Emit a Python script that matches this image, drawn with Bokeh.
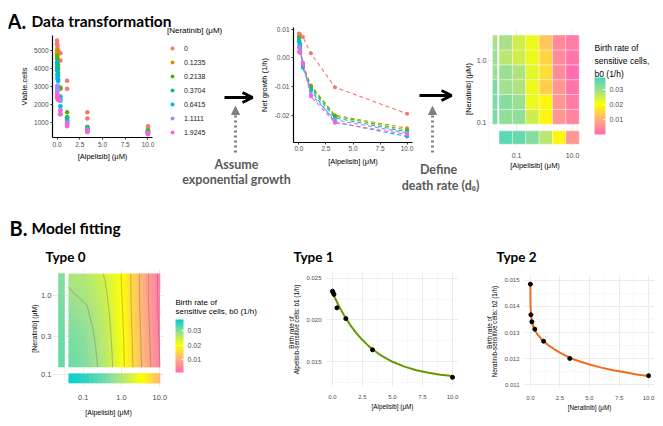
import numpy as np
from bokeh.plotting import figure
from bokeh.models import (Range1d, FixedTicker, Label, Arrow, OpenHead, NormalHead, ColorBar,
                          LinearColorMapper, Legend, LegendItem, PrintfTickFormatter,
                          ColumnDataSource)
from bokeh.core.properties import value
from bokeh.embed import file_html
from bokeh.resources import INLINE

# ---------------------------------------------------------------- data
ALPELISIB = [0, 0.0412, 0.1235, 0.3704, 1.1111, 3.3333, 10.0]
NERATINIB = [0, 0.1235, 0.2138, 0.3704, 0.6415, 1.1111, 1.9245]
NER_LABELS = ["0", "0.1235", "0.2138", "0.3704", "0.6415", "1.1111", "1.9245"]
NER_COLORS = ["#F8766D", "#C49A00", "#53B400", "#00C094", "#00B6EB", "#A58AFF", "#FB61D7"]

# viable cells: two replicates per alpelisib dose (dose order as ALPELISIB)
cells_ner_0 = [5560, 5380, 5300, 5150, 5000, 4880, 4850, 4450, 3320, 2880, 1560, 1220, 790, 660]
cells_ner_0_1235 = [5000, 4850, 4750, 4600, 4450, 4200, 2950, 2880, 1300, 1150, 760, 680, 560, 520]
cells_ner_0_2138 = [4700, 4550, 4300, 4100, 4000, 3750, 2900, 1450, 1560, 1280, 720, 640, 540, 480]
cells_ner_0_3704 = [4250, 4050, 3900, 3700, 3600, 3400, 2450, 2300, 1250, 1050, 700, 600, 500, 450]
cells_ner_0_6415 = [4350, 3900, 3600, 3450, 3300, 3000, 2200, 1900, 1100, 900, 650, 480, 450, 380]
cells_ner_1_1111 = [2850, 2700, 3050, 2950, 2800, 2500, 2250, 1700, 1000, 850, 600, 520, 430, 360]
cells_ner_1_9245 = [2600, 2400, 2450, 2300, 2350, 2250, 1650, 1450, 950, 780, 560, 470, 400, 340]
CELLS = [cells_ner_0, cells_ner_0_1235, cells_ner_0_2138, cells_ner_0_3704,
         cells_ner_0_6415, cells_ner_1_1111, cells_ner_1_9245]

# net growth (1/h)
growth_ner_0 = [0.0085, 0.0084, 0.0081, 0.0073, 0.0016, -0.0102, -0.0195]
growth_ner_0_1235 = [0.0075, 0.0062, 0.0050, -0.0024, -0.0096, -0.0200, -0.0245]
growth_ner_0_2138 = [0.0072, 0.0060, 0.0046, -0.0028, -0.0100, -0.0203, -0.0252]
growth_ner_0_3704 = [0.0066, 0.0054, 0.0040, -0.0031, -0.0108, -0.0209, -0.0258]
growth_ner_0_6415 = [0.0058, 0.0046, 0.0031, -0.0034, -0.0114, -0.0224, -0.0274]
growth_ner_1_1111 = [0.0036, 0.0040, 0.0027, -0.0016, -0.0126, -0.0216, -0.0262]
growth_ner_1_9245 = [0.0021, 0.0023, 0.0017, -0.0021, -0.0134, -0.0226, -0.0267]
GROWTH = [growth_ner_0, growth_ner_0_1235, growth_ner_0_2138, growth_ner_0_3704,
          growth_ner_0_6415, growth_ner_1_1111, growth_ner_1_9245]

# birth rate b0 per (neratinib row, alpelisib column), non-zero doses
b0_ner_0_1235 = [0.031, 0.031, 0.025, 0.019, 0.0065, 0.004]
b0_ner_0_2138 = [0.032, 0.030, 0.022, 0.019, 0.0065, 0.003]
b0_ner_0_3704 = [0.029, 0.028, 0.022, 0.014, 0.0065, 0.002]
b0_ner_0_6415 = [0.030, 0.028, 0.023, 0.016, 0.005, 0.001]
b0_ner_1_1111 = [0.027, 0.025, 0.022, 0.015, 0.005, 0.002]
b0_ner_1_9245 = [0.0285, 0.025, 0.022, 0.013, 0.005, 0.003]
B0_ROWS = [b0_ner_0_1235, b0_ner_0_2138, b0_ner_0_3704, b0_ner_0_6415, b0_ner_1_1111, b0_ner_1_9245]
b0_alp_0 = [0.033, 0.033, 0.033, 0.030, 0.030, 0.0285]   # alpelisib = 0, by neratinib
b0_ner_0 = [0.036, 0.035, 0.032, 0.027, 0.019, 0.0065]   # neratinib = 0, by alpelisib

# Type 0 fitted surface b0 (rows neratinib 0.1235 .. 1.9245, cols alpelisib 0.0412 .. 10)
type0_ner_0_1235 = [0.0318, 0.0302, 0.0265, 0.0205, 0.0120, 0.0040]
type0_ner_0_2138 = [0.0313, 0.0298, 0.0262, 0.0203, 0.0118, 0.0038]
type0_ner_0_3704 = [0.0305, 0.0292, 0.0258, 0.0200, 0.0115, 0.0035]
type0_ner_0_6415 = [0.0295, 0.0283, 0.0252, 0.0198, 0.0112, 0.0032]
type0_ner_1_1111 = [0.0282, 0.0274, 0.0245, 0.0196, 0.0110, 0.0030]
type0_ner_1_9245 = [0.0275, 0.0265, 0.0237, 0.0195, 0.0110, 0.0030]
TYPE0_ROWS = [type0_ner_0_1235, type0_ner_0_2138, type0_ner_0_3704,
              type0_ner_0_6415, type0_ner_1_1111, type0_ner_1_9245]
type0_alp_0 = [0.0318, 0.0316, 0.0313, 0.0310, 0.0305, 0.0300]
type0_ner_0 = [0.0375, 0.0350, 0.0315, 0.0265, 0.0205, 0.0110]
TYPE0_LEVELS = [0.004, 0.008, 0.012, 0.016, 0.020, 0.024, 0.028]

# Type 1: b1 vs alpelisib
type1_alp = ALPELISIB
type1_b1 = [0.02346, 0.02331, 0.02307, 0.02145, 0.02016, 0.01641, 0.01310]
type1_curve_alp = [0, 0.25, 0.5, 0.75, 1.0, 1.5, 2.0, 2.5, 3.0, 3.5, 4.0, 5.0, 6.0, 7.0, 8.0, 9.0, 10.0]
type1_curve_b1 = [0.02330, 0.02251, 0.02177, 0.02109, 0.02046, 0.01935, 0.01839, 0.01758, 0.01688,
                  0.01629, 0.01578, 0.01497, 0.01439, 0.01396, 0.01365, 0.01342, 0.01325]

# Type 2: b2 vs neratinib
type2_ner = [0, 0.0412, 0.1235, 0.3704, 1.1111, 3.3333, 10.0]
type2_b2 = [0.01485, 0.01368, 0.01341, 0.01313, 0.01267, 0.01201, 0.01135]
type2_curve_ner = [0, 0.005, 0.02, 0.05, 0.1, 0.2, 0.37, 0.6, 1.0, 1.5, 2.0, 2.5, 3.33, 4.0, 5.0,
                   6.0, 7.0, 8.0, 9.0, 10.0]
type2_curve_b2 = [0.01485, 0.01420, 0.01392, 0.01368, 0.01348, 0.01328, 0.01311, 0.01293, 0.01271,
                  0.01252, 0.01237, 0.01223, 0.01203, 0.01192, 0.01178, 0.01166, 0.01156, 0.01148,
                  0.01140, 0.01134]

# ---------------------------------------------------------------- helpers
W, H = 647, 410
OX, OY = 8, 8
FONT = "Liberation Sans"
TITLE_FONT = "Lato"
ABS = {"position": "absolute", "left": f"{OX}px", "top": f"{OY}px"}


def make_palette(anchors, n=256):
    pos = np.array([a[0] for a in anchors])
    cols = np.array([[int(a[1][i:i + 2], 16) for i in (1, 3, 5)] for a in anchors], float)
    t = np.linspace(0, 1, n)
    rgb = np.stack([np.interp(t, pos, cols[:, k]) for k in range(3)], 1)
    return ["#%02x%02x%02x" % tuple(int(round(c)) for c in row) for row in rgb]


def color_at(v, pal, lo, hi):
    i = int(np.clip((v - lo) / (hi - lo), 0, 1) * (len(pal) - 1))
    return pal[i]


def panel(x0, y0, x1, y1, xr, yr, axes=True):
    kw = {} if axes else dict(x_axis_location=None, y_axis_location=None)
    p = figure(width=W, height=H, output_backend="svg", toolbar_location=None,
               x_range=Range1d(*xr), y_range=Range1d(*yr),
               min_border_left=x0 - OX, min_border_top=y0 - OY,
               min_border_right=OX + W - x1, min_border_bottom=OY + H - y1,
               styles=ABS, **kw)
    p.background_fill_color = None
    p.border_fill_color = None
    p.outline_line_color = None
    return p


def style(p, classic, tick_fs, lab_fs, tick_standoff=(2, 2), lab_standoff=(2, 2)):
    for ax, ts, ls in ((p.xaxis[0], tick_standoff[0], lab_standoff[0]),
                       (p.yaxis[0], tick_standoff[1], lab_standoff[1])):
        ax.major_label_text_font = FONT
        ax.major_label_text_font_size = tick_fs
        ax.major_label_text_color = "#4d4d4d"
        ax.axis_label_text_font = FONT
        ax.axis_label_text_font_size = lab_fs
        ax.axis_label_text_font_style = "normal"
        ax.axis_label_text_color = "black"
        ax.minor_tick_line_color = None
        ax.minor_tick_out = 0
        ax.minor_tick_in = 0
        ax.major_label_standoff = ts
        ax.axis_label_standoff = ls
        if classic:
            ax.axis_line_color = "black"
            ax.axis_line_width = 1.2
            ax.major_tick_line_color = "#333333"
            ax.major_tick_out = 2
            ax.major_tick_in = 0
        else:
            ax.axis_line_color = None
            ax.major_tick_line_color = None
            ax.major_tick_out = 0
            ax.major_tick_in = 0
    if classic:
        p.xgrid.grid_line_color = None
        p.ygrid.grid_line_color = None
    else:
        for g in (p.xgrid[0], p.ygrid[0]):
            g.grid_line_color = "#ebebeb"
            g.grid_line_width = 1
            g.minor_grid_line_color = "#f3f3f3"
            g.minor_grid_line_width = 0.7


def ticks(ax, vals, labels, minor=None):
    ax.ticker = FixedTicker(ticks=vals, minor_ticks=minor or [])
    ax.major_label_overrides = {v: l for v, l in zip(vals, labels)}


LIN_TICKS = [0, 2.5, 5, 7.5, 10]
LIN_LABELS = ["0.0", "2.5", "5.0", "7.5", "10.0"]

figs = []

# ---------------------------------------------------------------- A1 scatter
pA1 = panel(52, 35, 152, 137, (-0.5, 10.5), (160, 5840))
for k in range(len(NER_LABELS)):
    xs = [a for a in ALPELISIB for _ in range(2)]
    pA1.scatter(xs, CELLS[k], size=4.5, color=NER_COLORS[k], line_color=None)
style(pA1, True, "6.5px", "7.5px", (2, 2), (2, 2))
ticks(pA1.xaxis[0], LIN_TICKS, LIN_LABELS)
ticks(pA1.yaxis[0], [1000, 2000, 3000, 4000, 5000], ["1000", "2000", "3000", "4000", "5000"])
pA1.xaxis.axis_label = "[Alpelisib] (μM)"
pA1.yaxis.axis_label = "Viable.cells"
figs.append(pA1)

# legend of panel A1 (same data, drawn out of view; only the legend shows)
pLeg = panel(167, 26, 245, 150, (100, 101), (100, 101), axes=False)
pLeg.grid.visible = False
items = []
for k, lab in enumerate(NER_LABELS):
    xs = [a for a in ALPELISIB for _ in range(2)]
    r = pLeg.scatter(xs, CELLS[k], size=4.5, color=NER_COLORS[k], line_color=None)
    items.append(LegendItem(label=value(lab), renderers=[r]))
leg = Legend(items=items, location="top_left", title="[Neratinib] (μM)",
             title_text_font=FONT, title_text_font_size="8px", title_text_font_style="normal",
             title_text_color="black",
             label_text_font=FONT, label_text_font_size="7px", label_text_color="#1a1a1a",
             glyph_width=10, glyph_height=12, label_height=12, spacing=2, padding=0, margin=0,
             label_standoff=7, title_standoff=7,
             background_fill_alpha=0, border_line_alpha=0)
pLeg.add_layout(leg)
figs.append(pLeg)

# ---------------------------------------------------------------- A2 net growth
pA2 = panel(293, 27, 412, 142, (-0.5, 10.5), (-0.0295, 0.0106))
for k in range(len(NER_LABELS)):
    src = ColumnDataSource(dict(x=ALPELISIB, y=GROWTH[k]))
    pA2.line("x", "y", source=src, line_color=NER_COLORS[k], line_dash="4 3", line_width=1.1)
    pA2.scatter("x", "y", source=src, size=4, color=NER_COLORS[k], line_color=None)
style(pA2, True, "6.5px", "7.5px", (1, 2), (3, 3))
ticks(pA2.xaxis[0], LIN_TICKS, LIN_LABELS)
ticks(pA2.yaxis[0], [-0.02, -0.01, 0.0, 0.01], ["-0.02", "-0.01", "0.00", "0.01"])
pA2.xaxis.axis_label = "[Alpelisib] (μM)"
pA2.yaxis.axis_label = "Net growth (1/h)"
figs.append(pA2)

# ---------------------------------------------------------------- A3 heatmap
palA = make_palette([(0.0, "#ff69b4"), (0.27, "#ffb27a"), (0.53, "#ffff00"),
                     (0.76, "#a6e08e"), (1.0, "#48d6bc")])
A_LO, A_HI = 0.0003, 0.0378
mapA = LinearColorMapper(palette=palA, low=A_LO, high=A_HI)
lx = np.log10(ALPELISIB[1:])
ly = np.log10(NERATINIB[1:])
cw = float(np.diff(lx).mean())
ch = float(np.diff(ly).mean())
pA3 = panel(487, 30, 582, 147, (-2.036, 1.357), (-1.401, 0.477))
hx, hy, hv = [], [], []
for j, row in enumerate(B0_ROWS):
    for i, v in enumerate(row):
        hx.append(float(lx[i])); hy.append(float(ly[j])); hv.append(v)
pA3.rect(hx, hy, cw, ch, fill_color=[color_at(v, palA, A_LO, A_HI) for v in hv],
         line_color="white", line_width=0.6, line_alpha=0.6)
pA3.rect([-1.768] * 6, list(ly), 0.18, ch, fill_color=[color_at(v, palA, A_LO, A_HI) for v in b0_alp_0],
         line_color="white", line_width=0.6, line_alpha=0.6)
pA3.rect(list(lx), [-1.24] * 6, cw, 0.215, fill_color=[color_at(v, palA, A_LO, A_HI) for v in b0_ner_0],
         line_color="white", line_width=0.6, line_alpha=0.6)
style(pA3, False, "7px", "7.5px", (5, 1), (0, 1))
ticks(pA3.xaxis[0], [-1.0, 1.0], ["0.1", "10.0"], [-2.0, 0.0])
ticks(pA3.yaxis[0], [-1.0, 0.0], ["0.1", "1.0"], [-0.5])
pA3.xaxis.axis_label = "[Alpelisib] (μM)"
pA3.yaxis.axis_label = "[Neratinib] (μM)"
figs.append(pA3)

# ---------------------------------------------------------------- B1 contour surface
palB = make_palette([(0.0, "#ff69b4"), (0.26, "#ffb27a"), (0.52, "#ffff00"),
                     (0.76, "#98e094"), (1.0, "#00ced1")])
B_LO, B_HI = 0.0012, 0.0376
mapB = LinearColorMapper(palette=palB, low=B_LO, high=B_HI)
pB1 = panel(52, 269, 164, 397, (-1.803, 1.123), (-1.168, 0.338))
fill_levels = list(np.linspace(0.0, 0.04, 161))
band_cols = [color_at(0.5 * (a + b), palB, B_LO, B_HI) for a, b in zip(fill_levels[:-1], fill_levels[1:])]
seam_cols = [color_at(l, palB, B_LO, B_HI) for l in fill_levels]


def surface(p, x, y, z):
    return p.contour(x=x, y=y, z=z, levels=fill_levels, fill_color=band_cols,
                     line_color=seam_cols, line_width=0.9)


surface(pB1, lx, ly, np.array(TYPE0_ROWS))
pB1.contour(x=lx, y=ly, z=np.array(TYPE0_ROWS), levels=TYPE0_LEVELS, fill_color=None,
            line_color="#6e6e6e", line_alpha=0.55, line_width=0.8)
surface(pB1, np.array([-1.654, -1.482]), ly, np.array([[v, v] for v in type0_alp_0]))
surface(pB1, lx, np.array([-1.113, -0.988]), np.array([type0_ner_0, type0_ner_0]))
style(pB1, False, "7.5px", "7px", (7, 1), (6, 0))
ticks(pB1.xaxis[0], [-1.0, 0.0, 1.0], ["0.1", "1.0", "10.0"], [-1.5, -0.5, 0.5])
ticks(pB1.yaxis[0], [-1.0, float(np.log10(0.3)), 0.0], ["0.1", "0.3", "1.0"], [-0.76, -0.26, 0.25])
pB1.xaxis.axis_label = "[Alpelisib] (μM)"
pB1.yaxis.axis_label = "[Neratinib] (μM)"
figs.append(pB1)

# ---------------------------------------------------------------- B2 type 1
pB2 = panel(326, 272, 458, 386, (-0.5, 10.5), (0.0120, 0.0257))
pB2.line(type1_curve_alp, type1_curve_b1, line_color="#669900", line_width=2)
pB2.scatter(type1_alp, type1_b1, size=4, color="black")
style(pB2, False, "6px", "6.3px", (8, 5), (1, 3))
ticks(pB2.xaxis[0], LIN_TICKS, LIN_LABELS, [1.25, 3.75, 6.25, 8.75])
ticks(pB2.yaxis[0], [0.015, 0.020, 0.025], ["0.015", "0.020", "0.025"], [0.0125, 0.0175, 0.0225])
pB2.xaxis.axis_label = "[Alpelisib] (μM)"
pB2.yaxis.axis_label = "Alpelisib-sensitive cells: b1 (1/h)"
figs.append(pB2)

# ---------------------------------------------------------------- B3 type 2
pB3 = panel(524, 275, 654, 387, (-0.5, 10.5), (0.0109, 0.01518))
pB3.line(type2_curve_ner, type2_curve_b2, line_color="#f26b1d", line_width=2)
pB3.scatter(type2_ner, type2_b2, size=4, color="black")
style(pB3, False, "6px", "6.3px", (8, 5), (1, 3))
ticks(pB3.xaxis[0], LIN_TICKS, LIN_LABELS, [1.25, 3.75, 6.25, 8.75])
ticks(pB3.yaxis[0], [0.011, 0.012, 0.013, 0.014, 0.015], ["0.011", "0.012", "0.013", "0.014", "0.015"],
      [0.0115, 0.0125, 0.0135, 0.0145])
pB3.xaxis.axis_label = "[Neratinib] (μM)"
pB3.yaxis.axis_label = "Neratinib-sensitive cells: b2 (1/h)"
figs.append(pB3)

# ---------------------------------------------------------------- annotations
anno = figure(width=W, height=H, output_backend="svg", toolbar_location=None,
              x_range=Range1d(OX, OX + W), y_range=Range1d(OY + H, OY),
              x_axis_location=None, y_axis_location=None, min_border=0, styles=ABS)
anno.grid.visible = False
anno.background_fill_color = None
anno.border_fill_color = None
anno.outline_line_color = None


def txt(x, y, s, size, font=FONT, style_="normal", color="black", align="left",
        baseline="middle", angle=0.0):
    anno.add_layout(Label(x=x, y=y, text=s, text_font=font, text_font_size=f"{size}px",
                          text_font_style=style_, text_color=color, text_align=align,
                          text_baseline=baseline, angle=angle))


# section titles
txt(7, 20, "A.", 20, TITLE_FONT, "bold", baseline="alphabetic")
txt(31, 20, "Data transformation", 15.5, TITLE_FONT, "bold", baseline="alphabetic")
txt(9, 227, "B.", 20, TITLE_FONT, "bold", baseline="alphabetic")
txt(31, 227, "Model fitting", 15.5, TITLE_FONT, "bold", baseline="alphabetic")
txt(45, 256, "Type 0", 13.5, TITLE_FONT, "bold", baseline="alphabetic")
txt(293, 256, "Type 1", 13.5, TITLE_FONT, "bold", baseline="alphabetic")
txt(496, 256, "Type 2", 13.5, TITLE_FONT, "bold", baseline="alphabetic")

# process arrows and captions
for xs, xe, y in ((224, 252, 97), (419, 451, 95)):
    anno.add_layout(Arrow(x_start=xs, y_start=y, x_end=xe, y_end=y, line_width=3, line_color="black",
                          end=OpenHead(size=10, line_width=3, line_color="black")))
for x in (235, 432):
    anno.add_layout(Arrow(x_start=x, y_start=152, x_end=x, y_end=106, line_width=3, line_color="#808080",
                          line_dash="2 3",
                          end=NormalHead(size=8, fill_color="#808080", line_color="#808080")))
txt(236, 164, "Assume", 12.5, TITLE_FONT, "bold", "#595959", "center")
txt(236, 179, "exponential growth", 12.5, TITLE_FONT, "bold", "#595959", "center")
txt(438, 169, "Define", 12.5, TITLE_FONT, "bold", "#595959", "center")
txt(440, 185, "death rate (d₀)", 12.5, TITLE_FONT, "bold", "#595959", "center")

# colour bar titles
txt(594, 47, "Birth rate of", 8.5)
txt(594, 60, " sensitive cells,", 8.5)
txt(594, 73, " b0 (1/h)", 8.5)
txt(175, 302, "Birth rate of", 8)
txt(175, 311, " sensitive cells, b0 (1/h)", 8)

# first lines of two-line y titles
txt(291, 332, "Birth rate of", 6.3, align="center", angle=float(np.pi / 2))
txt(489, 332, "Birth rate of", 6.3, align="center", angle=float(np.pi / 2))


def cbar(mapper, x0, y_bottom, w, h):
    cb = ColorBar(color_mapper=mapper, location=(x0 - OX, OY + H - y_bottom), width=w, height=h,
                  padding=0, ticker=FixedTicker(ticks=[0.01, 0.02, 0.03]),
                  formatter=PrintfTickFormatter(format="%.2f"), title="",
                  major_label_text_font=FONT, major_label_text_font_size="7px",
                  major_label_text_color="#4d4d4d", label_standoff=4,
                  major_tick_line_color="white", major_tick_in=2, major_tick_out=0,
                  bar_line_color=None, background_fill_alpha=0, border_line_color=None)
    anno.add_layout(cb)


cbar(mapA, 594, 134, 11, 57)
cbar(mapB, 175, 372, 8, 53)

figs.append(anno)
open("out.html", "w").write(file_html(figs, INLINE))
